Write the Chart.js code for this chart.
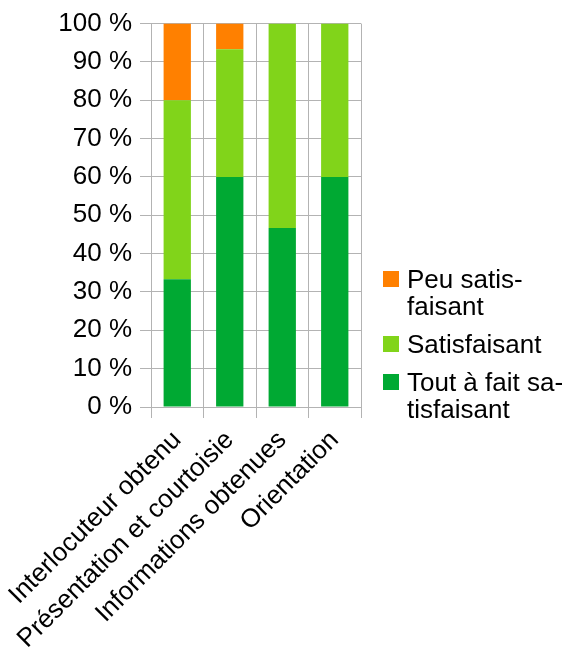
<!DOCTYPE html>
<html>
<head>
<meta charset="utf-8">
<script src="https://cdn.jsdelivr.net/npm/chart.js@4/dist/chart.umd.min.js"></script>
<style>
  html, body { margin: 0; padding: 0; background: #fff; }
  #wrap { width: 571px; height: 648px; }
</style>
</head>
<body>
<div id="wrap"><canvas id="satisfactionChart"></canvas></div>
<script>
// données (en %)
const categories = ['Interlocuteur obtenu', 'Présentation et courtoisie', 'Informations obtenues', 'Orientation'];
const toutAFait = [33.3, 60, 46.7, 60];
const satisfaisant = [46.7, 33.3, 53.3, 40];
const peuSatisfaisant = [20, 6.7, 0, 0];
const seriesNames = ['Tout à fait satisfaisant', 'Satisfaisant', 'Peu satisfaisant'];
const legendLines = [['Tout à fait sa-', 'tisfaisant'], ['Satisfaisant'], ['Peu satis-', 'faisant']];
const seriesColors = ['#00a933', '#81d41a', '#ff8000'];

const FONT = 'Liberation Sans, Arial, sans-serif';
const GRID = '#b3b3b3';

// légende à droite, lignes coupées comme dans l'original
const sideLegend = {
    id: 'sideLegend',
    afterDraw(chart) {
        const ctx = chart.ctx;
        const x = chart.chartArea.right + 22;
        let y = 281;
        ctx.save();
        ctx.font = '26px ' + FONT;
        ctx.textBaseline = 'middle';
        for (let i = chart.data.datasets.length - 1; i >= 0; i--) {
            const ds = chart.data.datasets[i];
            ctx.fillStyle = ds.backgroundColor;
            ctx.fillRect(x, y - 10, 16, 16);
            ctx.fillStyle = '#000';
            ds.legendText.forEach((line, j) => {
                ctx.fillText(line, x + 24, y + j * 27);
            });
            y += (ds.legendText.length - 1) * 27 + 38;
        }
        ctx.restore();
    }
};

const ctx = document.getElementById('satisfactionChart').getContext('2d');
new Chart(ctx, {
    type: 'bar',
    data: {
        labels: categories,
        datasets: [toutAFait, satisfaisant, peuSatisfaisant].map((values, i) => ({
            label: seriesNames[i],
            legendText: legendLines[i],
            data: values,
            backgroundColor: seriesColors[i],
            borderWidth: 0,
            barPercentage: 0.52,
            categoryPercentage: 1
        }))
    },
    options: {
        responsive: true,
        maintainAspectRatio: false,
        animation: false,
        layout: { padding: { top: 7, right: 210, left: 0, bottom: 0 } },
        plugins: {
            legend: { display: false },
            tooltip: { enabled: false }
        },
        scales: {
            x: {
                stacked: true,
                grid: { color: GRID, offset: true, tickLength: 11 },
                border: { color: GRID },
                ticks: {
                    color: '#000',
                    font: { family: FONT, size: 26 },
                    minRotation: 45,
                    maxRotation: 45,
                    padding: 7
                },
                afterFit(scale) {
                    scale.height = 241;
                    scale.paddingLeft = 0;
                    scale.paddingRight = 0;
                }
            },
            y: {
                stacked: true,
                min: 0,
                max: 100,
                grid: { color: GRID, tickLength: 11 },
                border: { color: GRID },
                ticks: {
                    stepSize: 10,
                    color: '#000',
                    font: { family: FONT, size: 26 },
                    padding: 8,
                    callback: v => v + ' %'
                },
                afterFit(scale) { scale.width = 151; }
            }
        }
    },
    plugins: [sideLegend]
});
</script>
</body>
</html>
